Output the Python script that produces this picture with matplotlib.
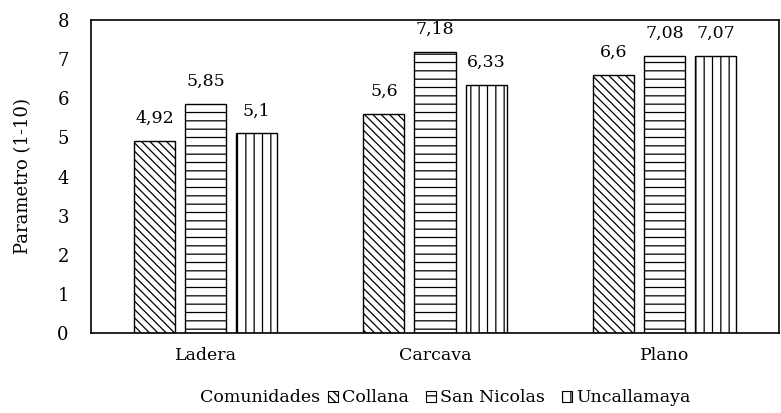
import matplotlib
matplotlib.use("Agg")
import matplotlib.pyplot as plt
import numpy as np
from matplotlib.patches import Patch

categories = ["Ladera", "Carcava", "Plano"]
series_names = ["Collana", "San Nicolas", "Uncallamaya"]
collana = [4.92, 5.6, 6.6]
san_nicolas = [5.85, 7.18, 7.08]
uncallamaya = [5.1, 6.33, 7.07]
values = [collana, san_nicolas, uncallamaya]
hatches = ["\\\\\\\\", "--", "||"]
yticks = [0, 1, 2, 3, 4, 5, 6, 7, 8]

plt.rcParams['font.family'] = ['DejaVu Serif']
plt.rcParams['hatch.linewidth'] = 0.9

fig = plt.figure(figsize=(7.81, 4.13), dpi=100)
ax = fig.add_axes([91 / 781, 1 - 333 / 413, 688 / 781, 313 / 413])

x = np.arange(len(categories))
width = 0.179
step = 0.223
for i, (name, vals, h) in enumerate(zip(series_names, values, hatches)):
    pos = x + (i - 1) * step
    ax.bar(pos, vals, width, facecolor="white", edgecolor="black",
           hatch=h, linewidth=1.0, label=name)
    for p, v in zip(pos, vals):
        ax.text(p, v + 0.36, f"{v:g}".replace(".", ","), ha="center",
                va="bottom", fontsize=12.5)

ax.set_xlim(-0.5, 2.5)
ax.set_ylim(0, 8)
ax.set_yticks(yticks)
ax.set_yticklabels([str(t) for t in yticks], fontsize=13)
ax.set_xticks(x)
ax.set_xticklabels(categories, fontsize=12.5)
ax.tick_params(axis="y", length=0, pad=16)
ax.tick_params(axis="x", length=0, pad=10)
ax.set_ylabel("Parametro (1-10)", fontsize=13, labelpad=18)
for s in ax.spines.values():
    s.set_linewidth(1.2)

handles = [Patch(facecolor="white", edgecolor="black", hatch=h, linewidth=0.8)
           for h in hatches]
leg = fig.legend(handles, series_names, loc="center", ncol=3,
                 bbox_to_anchor=(509 / 781, 1 - 398 / 413), frameon=False,
                 fontsize=12.5, handlelength=0.6, handleheight=0.6,
                 handletextpad=0.2, columnspacing=1.0, borderpad=0)
fig.canvas.draw()
bb = leg.get_window_extent()
fig.text((bb.x0 - 8) / 781, 1 - 398 / 413, "Comunidades", ha="right",
         va="center", fontsize=12.5)

fig.savefig("out.png", dpi=100)
